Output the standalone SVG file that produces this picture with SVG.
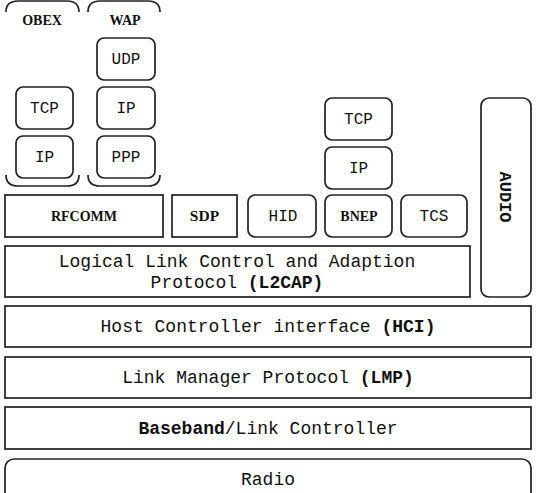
<svg xmlns="http://www.w3.org/2000/svg" width="536" height="493" viewBox="0 0 536 493">
<style>
.b{fill:#fff;stroke:#222;stroke-width:1.7}
.br{fill:none;stroke:#222;stroke-width:1.7}
.m{font-family:"Liberation Mono","Courier New",monospace;font-size:16px;fill:#111;text-anchor:middle}
.L{font-family:"Liberation Mono","Courier New",monospace;font-size:18px;fill:#111;text-anchor:middle}
.s{font-family:"Liberation Serif","Times New Roman",serif;font-weight:bold;font-size:14px;fill:#111;text-anchor:middle}
.bd{font-weight:bold}
</style>
<rect width="536" height="493" fill="#fff"/>
<g id="connectors">
<path class="br" d="M6,12 Q6,1 18,1 L67,1 Q79,1 79,12"/>
<path class="br" d="M6,175 Q6,186 18,186 L67,186 Q79,186 79,175"/>
<path class="br" d="M88,12 Q88,1 100,1 L148,1 Q160,1 160,12"/>
<path class="br" d="M88,175 Q88,186 100,186 L148,186 Q160,186 160,175"/>
</g>
<g id="obex"><text class="s" x="42" y="25">OBEX</text></g>
<g id="wap"><text class="s" x="125" y="25">WAP</text></g>
<g id="obex-tcp"><rect class="b" x="16" y="87" width="57" height="42" rx="7"/><text class="m" x="44.5" y="113">TCP</text></g>
<g id="obex-ip"><rect class="b" x="16" y="136" width="57" height="42" rx="7"/><text class="m" x="44.5" y="162">IP</text></g>
<g id="wap-udp"><rect class="b" x="97" y="38" width="58" height="42" rx="7"/><text class="m" x="126" y="64">UDP</text></g>
<g id="wap-ip"><rect class="b" x="97" y="87" width="58" height="42" rx="7"/><text class="m" x="126" y="113">IP</text></g>
<g id="wap-ppp"><rect class="b" x="97" y="136" width="58" height="42" rx="7"/><text class="m" x="126" y="162">PPP</text></g>
<g id="bnep-tcp"><rect class="b" x="325" y="98" width="67" height="42" rx="7"/><text class="m" x="358.5" y="124">TCP</text></g>
<g id="bnep-ip"><rect class="b" x="325" y="147" width="67" height="42" rx="7"/><text class="m" x="358.5" y="173">IP</text></g>
<g id="rfcomm"><rect class="b" x="5" y="195" width="158" height="42"/><text class="s" x="84" y="221">RFCOMM</text></g>
<g id="sdp"><rect class="b" x="172" y="195" width="65" height="42"/><text class="s" x="204.5" y="221" style="font-size:15.5px">SDP</text></g>
<g id="hid"><rect class="b" x="248" y="195" width="68" height="42" rx="7"/><text class="m" x="283" y="221">HID</text></g>
<g id="bnep"><rect class="b" x="325" y="195" width="67" height="42" rx="7"/><text class="s" x="359" y="221">BNEP</text></g>
<g id="tcs"><rect class="b" x="401" y="195" width="66" height="42" rx="7"/><text class="m" x="434" y="221">TCS</text></g>
<g id="audio"><rect class="b" x="481" y="98" width="50" height="199" rx="8"/><text class="m bd" transform="translate(500,197) rotate(90)" x="0" y="0" style="font-size:17px">AUDIO</text></g>
<g id="l2cap"><rect class="b" x="5" y="246" width="465" height="51"/><text class="L" x="237" y="267">Logical Link Control and Adaption</text><text class="L" x="237" y="288">Protocol <tspan class="bd">(L2CAP)</tspan></text></g>
<g id="hci"><rect class="b" x="5" y="306" width="526" height="41"/><text class="L" x="268" y="332">Host Controller interface <tspan class="bd">(HCI)</tspan></text></g>
<g id="lmp"><rect class="b" x="5" y="357" width="526" height="41"/><text class="L" x="268" y="383">Link Manager Protocol <tspan class="bd">(LMP)</tspan></text></g>
<g id="baseband"><rect class="b" x="5" y="407" width="526" height="42"/><text class="L" x="268" y="434"><tspan class="bd">Baseband</tspan>/Link Controller</text></g>
<g id="radio"><rect class="b" x="5" y="459" width="526" height="50" rx="9"/><text class="L" x="268" y="485">Radio</text></g>
</svg>
